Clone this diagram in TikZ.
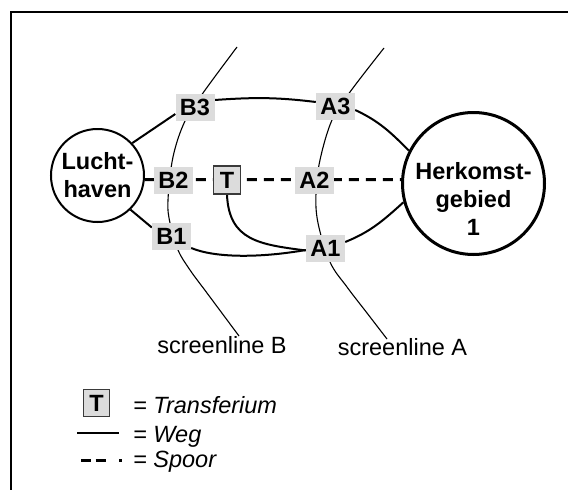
\documentclass[tikz,border=0pt]{standalone}
\usepackage{fontspec}
\setmainfont{Liberation Sans}
\pgfdeclarelayer{bg}
\pgfsetlayers{bg,main}
\definecolor{labgrey}{HTML}{DCDCDC}
\definecolor{tedge}{HTML}{3A3A3A}
\begin{document}
\begin{tikzpicture}[x=1pt,y=-1pt,
  every node/.style={inner sep=0pt},
  lab/.style={fill=labgrey, minimum width=39pt, minimum height=27pt, font=\fontsize{23.5}{28}\selectfont\bfseries},
  tbox/.style={fill=labgrey, draw=tedge, line width=1.5pt, minimum width=27pt, minimum height=28pt, font=\fontsize{23.5}{28}\selectfont\bfseries},
  city/.style={circle, draw, fill=white, align=center, font=\fontsize{23.5}{28}\selectfont\bfseries},
  citytext/.style={align=center, font=\fontsize{23.5}{28}\selectfont\bfseries},
  weg/.style={line width=2pt},
  scr/.style={line width=1.1pt},
  spoor/.style={line width=3pt, dash pattern=on 10pt off 7pt},
  plain/.style={font=\fontsize{23.5}{28}\selectfont, anchor=base},
  legtext/.style={font=\fontsize{23.5}{28}\selectfont\itshape, anchor=base west},
  frame/.style={line width=2pt}
]
\useasboundingbox (0,0) rectangle (568,490);
\coordinate (F1) at (11,490);
\coordinate (F2) at (11,12);
\coordinate (F3) at (568,12);
\draw[frame] (F1) -- (F2) -- (F3);

\node[city, line width=2pt, minimum size=93pt] (L) at (97.5,175.5) {Lucht-\\haven};
\node[city, line width=3pt, minimum size=142pt] (H) at (473.5,183.5) {};
\node[citytext] (Htxt) at (473.5,199) {Herkomst-\\gebied\\1};

\node[lab] (B3) at (195,107) {B3};
\node[lab] (A3) at (335.5,106.5) {A3};
\node[lab] (B2) at (173.5,180.5) {B2};
\node[tbox] (T) at (227,180) {T};
\node[lab] (A2) at (314.5,180) {A2};
\node[lab] (B1) at (171.5,236.5) {B1};
\node[lab] (A1) at (325.5,248.5) {A1};

\node[plain] (SB) at (222,353) {screenline B};
\node[plain] (SA) at (402.5,355) {screenline A};

\begin{pgfonlayer}{bg}
\draw[scr] plot[smooth, tension=0.6] coordinates {(237,47) (203,93) (185,121) (173,157) (168,200) (170,223) (178,250) (190,270) (207,293) (239,336)};
\draw[scr] plot[smooth, tension=0.6] coordinates {(384,48) (350,92) (332,120) (320,160) (316,193) (318,223) (330,262) (347,287) (367,313) (387,339)};
\draw[weg] (L.43) -- ([yshift=-7pt]B3.west);
\draw[weg] (L.-46) -- ([yshift=9pt]B1.west);
\draw[weg] ([yshift=7pt]B3.east) to[out=4, in=173] ([yshift=4.5pt]A3.west);
\draw[weg] ([yshift=-3.5pt]A3.east) to[out=-25, in=135] (H.153);
\draw[weg] ([yshift=6.5pt]A1.east) to[out=22, in=222] (H.195);
\draw[weg] ([yshift=-11.5pt]B1.east) .. controls +(24,10) and +(-46,8) .. ([yshift=-1.5pt]A1.west);
\draw[weg] (T.south) .. controls +(2,46) and +(-46,-6) .. ([yshift=-2pt]A1.west);
\draw[spoor] (L.-5.4) -- (H.177.2);
\end{pgfonlayer}

\node[tbox, minimum width=26pt, minimum height=27pt] (TL) at (96.5,403) {T};
\node[legtext] (lt1) at (133,413) {= Transferium};
\coordinate (w1) at (77,433);
\coordinate (w2) at (119,433);
\draw[line width=1.3pt] (w1) -- (w2);
\node[legtext] (lt2) at (133,442) {= Weg};
\coordinate (s1) at (81,460);
\coordinate (s2) at (122,460);
\draw[line width=3pt, dash pattern=on 10pt off 4.5pt on 10.5pt off 13pt on 3pt off 10pt] (s1) -- (s2);
\node[legtext] (lt3) at (133,467) {= Spoor};
\end{tikzpicture}
\end{document}
